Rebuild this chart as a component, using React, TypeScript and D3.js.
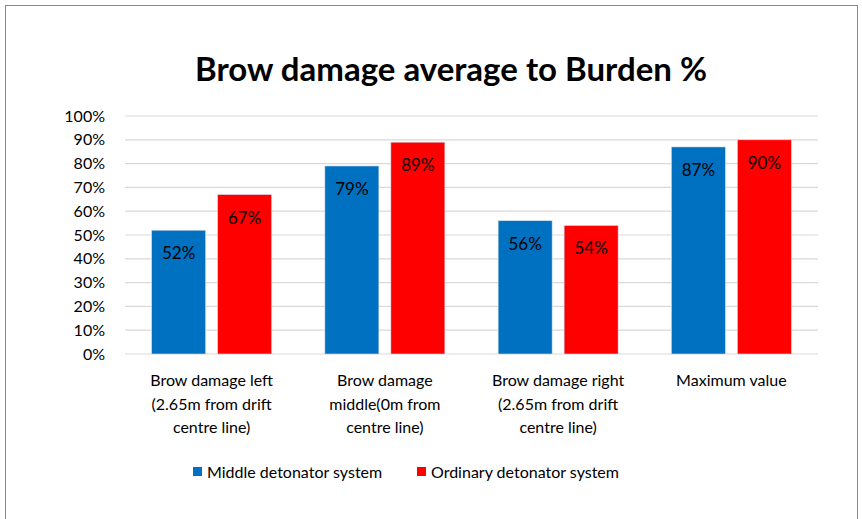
import React from 'react';
import { scaleBand, scaleLinear } from 'd3';

// chart data
const categories = [
	['Brow damage left', '(2.65m from drift', 'centre line)'],
	['Brow damage', 'middle(0m from', 'centre line)'],
	['Brow damage right', '(2.65m from drift', 'centre line)'],
	['Maximum value'],
];
const seriesNames = ['Middle detonator system', 'Ordinary detonator system'];
const middleValues = [52, 79, 56, 87];
const ordinaryValues = [67, 89, 54, 90];
const yTicks = [0, 10, 20, 30, 40, 50, 60, 70, 80, 90, 100];

const colors = ['#0070C0', '#FF0000'];
const FONT = 'Lato, "Open Sans", sans-serif';

export default function App() {
	const width = 862;
	const height = 519;
	const margin = { left: 125, right: 44, top: 116, bottom: 165 };
	const series = [middleValues, ordinaryValues];
	const keys = categories.map((c) => c.join(' '));

	const x = scaleBand<string>()
		.domain(keys)
		.range([margin.left, width - margin.right])
		.paddingInner(0.3074)
		.paddingOuter(0.3074 / 2);

	const x1 = scaleBand<number>()
		.domain([0, 1])
		.range([0, x.bandwidth()])
		.paddingInner(0.1818);

	const y = scaleLinear()
		.domain([0, 100])
		.range([height - margin.bottom, margin.top]);

	return (
		<svg width={width} height={height} style={{ position: 'absolute', left: 0, top: 0, fontFamily: FONT }}>
			<rect x={5.5} y={5.5} width={852} height={530} fill="#fff" stroke="#888" strokeWidth={1} />
			<text x={451} y={81} textAnchor="middle" fontSize={33} fontWeight="bold" fill="#000">
				Brow damage average to Burden %
			</text>

			{/* grid + y axis */}
			<g>
				{yTicks.map((t) => (
					<g key={t}>
						<line x1={margin.left} x2={width - margin.right} y1={y(t)} y2={y(t)} stroke="#D9D9D9" strokeWidth={1.2} />
						<text x={105} y={y(t)} dy="0.35em" textAnchor="end" fontSize={16} fill="#000">
							{t}%
						</text>
					</g>
				))}
			</g>

			{/* bars */}
			{keys.map((k, i) => (
				<g key={k} transform={`translate(${x(k)},0)`}>
					{series.map((vals, s) => (
						<g key={s}>
							<rect
								x={x1(s)}
								y={y(vals[i])}
								width={x1.bandwidth()}
								height={y(0) - y(vals[i])}
								fill={colors[s]}
								stroke="#d5dde8"
								strokeWidth={0.6}
							/>
							<text
								x={(x1(s) as number) + x1.bandwidth() / 2}
								y={y(vals[i]) + 29}
								textAnchor="middle"
								fontSize={17}
								fill="#000"
							>
								{vals[i]}%
							</text>
						</g>
					))}
				</g>
			))}

			{/* category labels */}
			{categories.map((lines, i) => (
				<text key={i} x={(x(keys[i]) as number) + x.bandwidth() / 2} textAnchor="middle" fontSize={16} fill="#000">
					{lines.map((l, j) => (
						<tspan key={j} x={(x(keys[i]) as number) + x.bandwidth() / 2} y={386 + j * 23.5}>
							{l}
						</tspan>
					))}
				</text>
			))}

			{/* legend */}
			<g>
				{seriesNames.map((name, s) => {
					const lx = [193, 417][s];
					return (
						<g key={name}>
							<rect x={lx} y={467} width={9} height={9} fill={colors[s]} />
							<text x={lx + 14} y={472} dy="0.35em" fontSize={16} fill="#000">
								{name}
							</text>
						</g>
					);
				})}
			</g>
		</svg>
	);
}
